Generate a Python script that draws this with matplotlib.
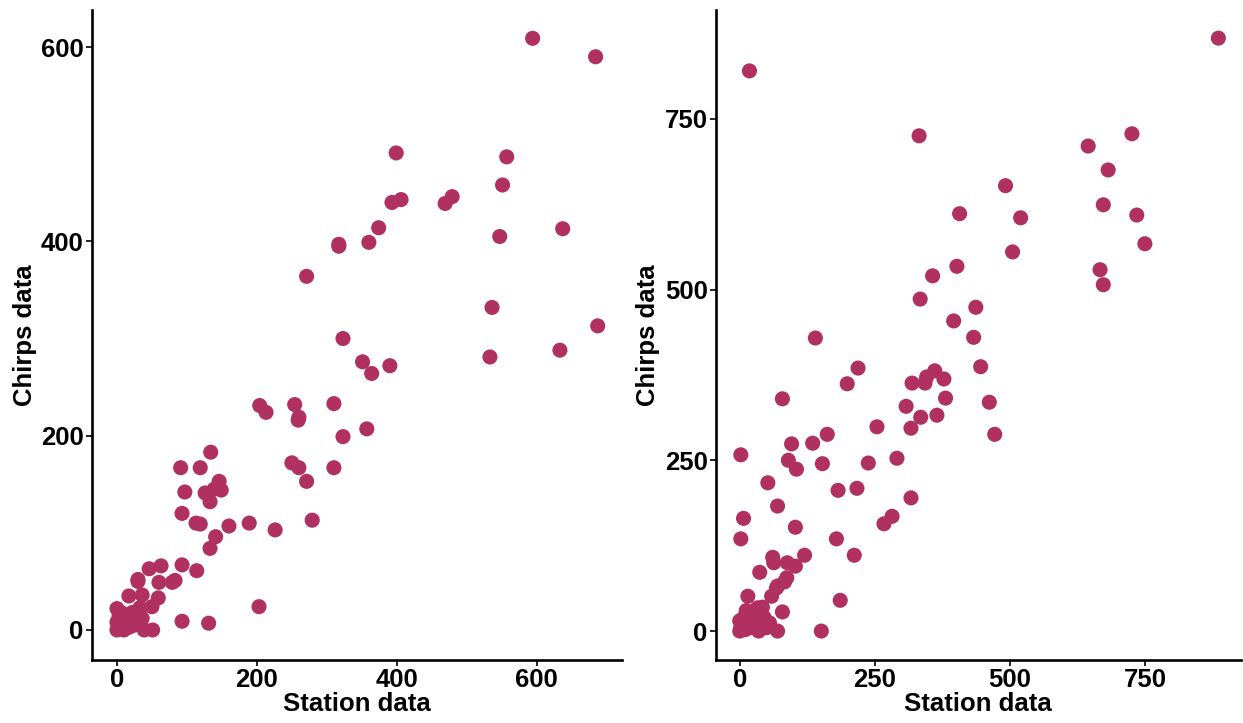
import numpy as np
import matplotlib.pyplot as plt
from matplotlib import font_manager as fm

# left panel: station vs chirps
st_a = [594, 684, 399, 557, 551, 393, 406, 469, 479, 374, 360, 317, 317, 547, 637,
        271, 536, 687, 323, 533, 633, 351, 364, 390, 204, 213, 254, 260, 259, 310,
        323, 357, 250, 260, 310, 271, 189, 226, 279, 160, 134, 91, 119, 146, 149,
        126, 97, 139, 133, 93, 113, 119, 141, 133, 114, 93, 93, 131, 203, 63,
        46, 60, 79, 83, 59, 30, 30, 17, 36, 50, 33, 0, 36, 39, 51,
        0, 2, 5, 8, 10, 12, 15, 18, 20, 25, 3, 22, 0, 28, 6]
ch_a = [609, 590, 491, 487, 458, 440, 443, 439, 446, 414, 399, 397, 395, 405, 413,
        364, 332, 313, 300, 281, 288, 276, 264, 272, 231, 224, 232, 219, 216, 233,
        199, 207, 172, 167, 167, 153, 110, 103, 113, 107, 183, 167, 167, 153, 144,
        141, 142, 145, 132, 120, 110, 109, 96, 84, 61, 67, 9, 7, 24, 66,
        63, 49, 49, 51, 33, 52, 50, 35, 36, 24, 23, 22, 12, 0, 0,
        0, 5, 2, 12, 0, 8, 15, 3, 10, 5, 14, 18, 8, 12, 18]

# right panel
st_b = [886, 18, 332, 726, 645, 682, 492, 735, 673, 520, 407, 750, 505, 402, 667,
        673, 357, 334, 437, 396, 433, 140, 219, 446, 361, 346, 343, 378, 319, 199,
        381, 462, 79, 308, 365, 335, 254, 317, 472, 162, 135, 96, 2, 90, 153,
        238, 291, 105, 52, 182, 217, 317, 7, 70, 103, 2, 179, 282, 267, 120,
        61, 63, 88, 103, 212, 37, 87, 83, 70, 68, 59, 15, 42, 33, 79,
        186, 70, 151,
        0, 2, 5, 8, 10, 12, 15, 20, 25, 30, 35, 40, 45, 50, 55, 0, 18]
ch_b = [868, 820, 725, 728, 710, 675, 652, 609, 624, 605, 611, 567, 555, 534, 529,
        507, 520, 486, 474, 454, 430, 429, 385, 387, 381, 372, 363, 369, 363, 362,
        341, 335, 340, 329, 316, 313, 299, 297, 288, 288, 275, 274, 258, 250, 245,
        246, 253, 237, 217, 206, 209, 195, 165, 183, 152, 135, 135, 168, 157, 111,
        108, 100, 100, 95, 111, 86, 78, 72, 66, 63, 51, 51, 35, 34, 28,
        45, 0, 0,
        0, 5, 10, 20, 2, 30, 15, 5, 25, 10, 0, 8, 20, 5, 12, 15, 28]

col = '#B03060'

# pick the regular-width Liberation Sans Bold (not the Narrow one)
bold_path = None
for f in fm.fontManager.ttflist:
    if f.name == 'Liberation Sans' and f.weight in ('bold', 700) and 'Narrow' not in f.fname \
            and f.style == 'normal':
        bold_path = f.fname
        break
if bold_path:
    fp = fm.FontProperties(fname=bold_path, size=18.5)
else:
    fp = fm.FontProperties(family='DejaVu Sans', weight='bold', size=17)

fig = plt.figure(figsize=(12.43, 7.23), dpi=100)
ax1 = fig.add_axes([0.074, 0.087, 0.426, 0.899])
ax2 = fig.add_axes([0.576, 0.087, 0.422, 0.899])

def style(ax, xs, ys, xlim, ylim, ticks):
    ax.scatter(xs, ys, s=118, color=col, edgecolors='none', zorder=3)
    ax.set_xlim(*xlim)
    ax.set_ylim(*ylim)
    ax.set_xticks(ticks)
    ax.set_yticks(ticks)
    for s in ['top', 'right']:
        ax.spines[s].set_visible(False)
    for s in ['left', 'bottom']:
        ax.spines[s].set_linewidth(1.9)
    ax.tick_params(length=4, width=1.2, pad=2)
    for lab in ax.get_xticklabels() + ax.get_yticklabels():
        lab.set_fontproperties(fp)
    ax.set_xlabel('Station data', fontproperties=fp, labelpad=0)
    ax.set_ylabel('Chirps data', fontproperties=fp, labelpad=3)

style(ax1, st_a, ch_a, (-35.7, 721), (-31, 638), [0, 200, 400, 600])
style(ax2, st_b, ch_b, (-44, 927), (-42.5, 909), [0, 250, 500, 750])

fig.savefig('out.png', dpi=100)
